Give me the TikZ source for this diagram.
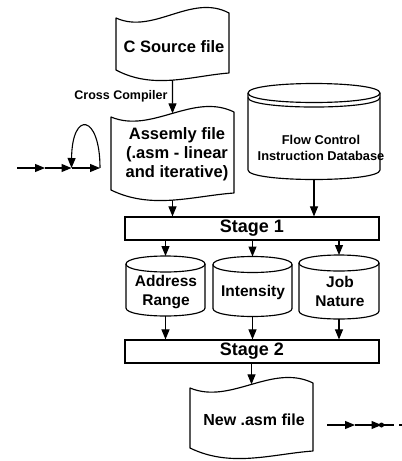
\documentclass[tikz,border=0pt]{standalone}
\usepackage{fontspec}
\setmainfont{Liberation Sans}
\usetikzlibrary{arrows.meta}

% Punched-tape outline: wavy top and bottom edges.
% #1 name prefix, #2 left x, #3 right x, #4 top-left y, #5 bottom-left y, #6 wave amplitude
% Defines coordinates (#1-n) and (#1-s) at the middle of the top and bottom edges.
\newcommand\tapeoutline[6]{%
  \draw[shape line]
    (#2,#4) .. controls ({#2+(#3-#2)/3},{#4+1.7*#6}) and ({#2+2*(#3-#2)/3},{#4-2.5*#6})
      .. coordinate[pos=0.5] (#1-n) (#3,{#4-0.5*#6})
    -- (#3,{#5+0.3*#6})
    .. controls ({#2+2*(#3-#2)/3},{#5+0.6*#6}) and ({#2+(#3-#2)/3},{#5+2.0*#6})
      .. coordinate[pos=0.5] (#1-s) (#2,#5)
    -- cycle;}

% Upright cylinder (storage drum).
% #1 name prefix, #2 left x, #3 right x, #4 top rim y, #5 bottom rim y, #6 rim half-height
\newcommand\drumoutline[6]{%
  \draw[shape line]
    (#2,#4) -- (#2,#5)
    .. controls (#2,{#5+1.333*#6}) and (#3,{#5+1.333*#6}) .. coordinate[pos=0.5] (#1-s) (#3,#5)
    -- (#3,#4)
    .. controls (#3,{#4-1.333*#6}) and (#2,{#4-1.333*#6}) .. coordinate[pos=0.5] (#1-n) (#2,#4)
    -- cycle;
  \draw[shape line] (#2,#4) .. controls (#2,{#4+1.333*#6}) and (#3,{#4+1.333*#6}) .. (#3,#4);}

\tikzset{
  shape line/.style={line width=1.15pt, line join=round},
  conn/.style={line width=1.1pt, -{Triangle[length=10pt,width=8pt]}},
  plain/.style={line width=1.1pt},
  txt/.style={font=\bfseries\fontsize{16.5}{19}\selectfont, align=center, inner sep=0pt},
  smalltxt/.style={font=\bfseries\fontsize{12.8}{16}\selectfont, align=center, inner sep=0pt},
  drumtxt/.style={font=\bfseries\fontsize{15.5}{19}\selectfont, align=center, inner sep=0pt},
  stagebox/.style={draw, line width=1.15pt, minimum width=254pt, minimum height=23pt,
    inner sep=0pt, font=\bfseries\fontsize{18}{20}\selectfont},
  dotnode/.style={circle, fill=black, inner sep=0pt, minimum size=5pt}
}

\begin{document}
\begin{tikzpicture}[x=1pt, y=-1pt]
  \fill[white] (0,0) rectangle (402,461);
  \useasboundingbox (0,0) rectangle (402,461);

  % source and assembly files
  \tapeoutline{csrc}{116}{229}{18}{70}{10}
  \node[txt] (csrc) at (174,47) {C Source file};

  \tapeoutline{asm}{111}{234}{117}{190}{10}
  \node[txt] (asm) at (177,154) {Assemly file\\(.asm - linear\\and iterative)};

  % flow control database
  \drumoutline{db}{248}{380}{93}{170}{9.5}
  \draw[shape line] (248,97.5) .. controls (248,110.2) and (380,110.2) .. (380,97.5);
  \node[smalltxt] (db) at (321,148) {Flow Control\\Instruction Database};

  % processing stages
  \node[stagebox] (s1) at (252,228.5) {Stage 1};

  \drumoutline{addr}{126}{205}{264}{308}{8}
  \node[drumtxt] (addr) at (166,292.5) {Address\\Range};
  \drumoutline{inten}{213}{292}{264.5}{308.5}{8}
  \node[drumtxt] (inten) at (253,292) {Intensity};
  \drumoutline{job}{299}{379}{263}{311}{8}
  \node[drumtxt] (job) at (340,291.5) {Job\\Nature};

  \node[stagebox] (s2) at (252,351.5) {Stage 2};

  \tapeoutline{new}{190}{313}{388}{448}{10}
  \node[txt, font=\bfseries\fontsize{16}{19}\selectfont] (new) at (254,420) {New .asm file};

  % connectors
  \draw[conn] (csrc-s) -- node[pos=0.5, anchor=east, xshift=-4.5pt, inner sep=0pt,
      font=\bfseries\fontsize{12.5}{14}\selectfont] (cc) {Cross Compiler} (asm-n);
  \draw[conn] (asm-s) -- (asm-s |- s1.north);
  \draw[conn] (db-s) -- (db-s |- s1.north);

  \draw[conn] (s1.south -| addr-n) -- (addr-n);
  \draw[conn] (s1.south -| inten-n) -- (inten-n);
  \draw[conn] (s1.south -| job-n) -- (job-n);

  \draw[conn] (addr-s) -- (addr-s |- s2.north);
  \draw[conn] (inten-s) -- (inten-s |- s2.north);
  \draw[conn] (job-s) -- (job-s |- s2.north);

  \draw[conn] (s2.south -| new-n) -- (new-n);

  % self-loop on the incoming line
  \coordinate (in0) at (17,168);
  \coordinate (in1) at (45,168);
  \coordinate (in2) at (71.5,168);
  \coordinate (in3) at (100,168);
  \draw[conn] (in0) -- (in1);
  \draw[conn] (in1) -- (in2);
  \draw[conn] (in2) -- (in3);
  \draw[conn] (in3) .. controls (100,114) and (72,110) .. (in2);

  % outgoing line
  \coordinate (out0) at (327,425);
  \coordinate (out1) at (355,425);
  \coordinate (out2) at (381.5,425);
  \coordinate (out3) at (394,425);
  \coordinate (out4) at (399,425);
  \coordinate (out5) at (402,425);
  \draw[conn] (out0) -- (out1);
  \draw[conn] (out1) -- (out2);
  \draw[plain] (out2) -- (out3);
  \node[dotnode] (dot) at (out2) {};
  \draw[plain] (out4) -- (out5);
\end{tikzpicture}
\end{document}
